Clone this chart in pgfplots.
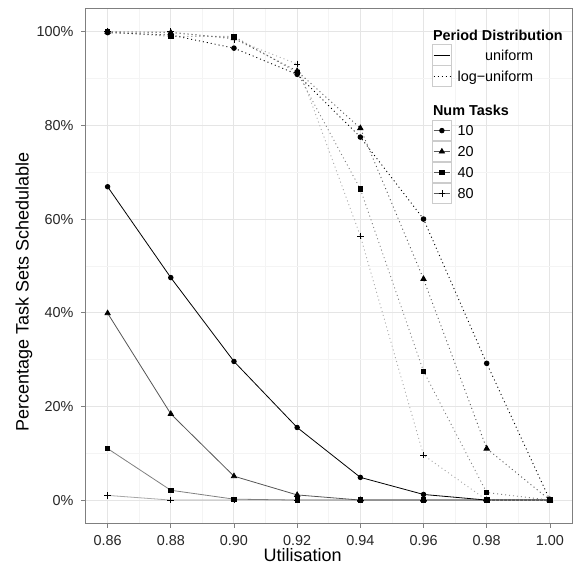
\documentclass[border=0pt]{standalone}
\usepackage{pgfplots}
\pgfplotsset{compat=1.18}
\usepackage{fontspec}
\setmainfont{Liberation Sans}
\definecolor{c10}{HTML}{000000}
\definecolor{c20}{HTML}{555555}
\definecolor{c40}{HTML}{808080}
\definecolor{c80}{HTML}{A8A8A8}
\definecolor{gmaj}{HTML}{E5E5E5}
\definecolor{gmin}{HTML}{F4F4F4}
\definecolor{border}{HTML}{7F7F7F}
\definecolor{keyb}{HTML}{CCCCCC}
\pgfplotsset{
  keyline/.style={legend image code/.code={
    \draw[draw=keyb, fill=white, line width=0.7pt, solid] (0pt,-10.15pt) rectangle (19.3pt,10.15pt);
    \draw[##1] (1.5pt,0pt) -- (17.8pt,0pt);
  }},
  keymark/.style={legend image code/.code={
    \draw[draw=keyb, fill=white, line width=0.7pt, solid] (0pt,-10.15pt) rectangle (19.3pt,10.15pt);
    \draw[mark repeat=2,mark phase=2,##1] plot coordinates {(1.5pt,0pt) (9.65pt,0pt) (17.8pt,0pt)};
  }},
  uni/.style={solid, line width=0.8pt},
  logu/.style={dash pattern=on 1pt off 3pt, line width=0.9pt},
  m10/.style={mark=*, mark size=2.3pt, mark options={solid, draw=black, fill=black}},
  m20/.style={mark=triangle*, mark size=3pt, mark options={solid, draw=black, fill=black}},
  m40/.style={mark=square*, mark size=2.2pt, mark options={solid, draw=black, fill=black}},
  m80/.style={mark=+, mark size=3.3pt, mark options={solid, draw=black, line width=0.7pt}},
}
\begin{document}
\begin{tikzpicture}
\path[use as bounding box] (-85.5pt,-41.5pt) rectangle (490.5pt,523.5pt);
\begin{axis}[
  at={(0pt,0pt)}, anchor=south west,
  scale only axis, width=486.5pt, height=515.2pt,
  xmin=0.853, xmax=1.007, ymin=-5, ymax=105,
  xtick={0.86,0.88,0.90,0.92,0.94,0.96,0.98,1.00},
  xticklabels={0.86,0.88,0.90,0.92,0.94,0.96,0.98,1.00},
  ytick={0,20,40,60,80,100},
  yticklabels={0\%,20\%,40\%,60\%,80\%,100\%},
  minor xtick={0.87,0.89,0.91,0.93,0.95,0.97,0.99},
  minor ytick={10,30,50,70,90},
  grid=both,
  major grid style={draw=gmaj, line width=1pt},
  minor grid style={draw=gmin, line width=0.6pt},
  axis line style={draw=border, line width=0.7pt},
  tick align=outside,
  xtick pos=bottom, ytick pos=left,
  major tick length=4.3pt, minor tick length=0pt,
  tick style={draw=border, line width=0.7pt},
  /pgf/number format/assume math mode=true,
  ticklabel style={font=\fontsize{14.4}{17}\selectfont, text=black!85, inner sep=0pt},
  xticklabel style={yshift=-7pt},
  yticklabel style={xshift=-7.5pt},
  every axis x label/.style={at={(axis description cs:0.4465,-0.0728)}, anchor=base, inner sep=0pt, font=\fontsize{18}{21}\selectfont},
  every axis y label/.style={at={(axis description cs:-0.11716,0.4495)}, anchor=base, rotate=90, inner sep=0pt, font=\fontsize{18}{21}\selectfont},
  xlabel={Utilisation},
  ylabel={Percentage Task Sets Schedulable},
  legend cell align=left,
  legend style={at={(0.7116,0.9579)}, anchor=north west, draw=none, fill=none,
    inner sep=0pt, row sep=0pt, column sep=5.7pt,
    font=\fontsize{14.4}{17}\selectfont,
    nodes={inner xsep=0pt, inner ysep=0pt, text height=10.3pt, text depth=0pt}},
]
% ---- legend ----
\addlegendimage{empty legend}
\addlegendentry[text height=10.7pt, text depth=3.6pt]{\makebox[0pt][l]{\hspace*{-25pt}\textbf{Period Distribution}}}
\addlegendimage{keyline, black, uni}
\addlegendentry{\hphantom{log−}uniform}
\addlegendimage{keyline, black, logu}
\addlegendentry{log−uniform}
\addlegendimage{empty legend}
\addlegendentry[text height=29.3pt, text depth=4.3pt]{\makebox[0pt][l]{\hspace*{-25pt}\textbf{Num Tasks}}}
\addlegendimage{keymark, black!65, uni, m10}
\addlegendentry{10}
\addlegendimage{keymark, black!65, uni, m20}
\addlegendentry{20}
\addlegendimage{keymark, black!65, uni, m40}
\addlegendentry{40}
\addlegendimage{keymark, black!65, uni, m80}
\addlegendentry{80}
% ---- uniform ----
\addplot[forget plot, c80, uni, m80] coordinates {(0.86,1.0) (0.88,0) (0.90,0) (0.92,0) (0.94,0) (0.96,0) (0.98,0) (1.00,0)};
\addplot[forget plot, c40, uni, m40] coordinates {(0.86,11.0) (0.88,2.1) (0.90,0.2) (0.92,0) (0.94,0) (0.96,0) (0.98,0) (1.00,0)};
\addplot[forget plot, c20, uni, m20] coordinates {(0.86,39.9) (0.88,18.4) (0.90,5.1) (0.92,1.1) (0.94,0) (0.96,0) (0.98,0) (1.00,0)};
\addplot[forget plot, c10, uni, m10] coordinates {(0.86,66.9) (0.88,47.5) (0.90,29.6) (0.92,15.5) (0.94,4.85) (0.96,1.2) (0.98,0) (1.00,0)};
% ---- log-uniform ----
\addplot[forget plot, c80, logu, m80] coordinates {(0.86,100) (0.88,100) (0.90,98.4) (0.92,93.1) (0.94,56.4) (0.96,9.6) (0.98,0) (1.00,0)};
\addplot[forget plot, c40, logu, m40] coordinates {(0.86,100) (0.88,99.0) (0.90,99.0) (0.92,91.3) (0.94,66.4) (0.96,27.5) (0.98,1.6) (1.00,0)};
\addplot[forget plot, c20, logu, m20] coordinates {(0.86,100) (0.88,99.8) (0.90,98.6) (0.92,91.6) (0.94,79.4) (0.96,47.2) (0.98,11.0) (1.00,0)};
\addplot[forget plot, c10, logu, m10] coordinates {(0.86,99.8) (0.88,99.3) (0.90,96.5) (0.92,90.9) (0.94,77.5) (0.96,60.0) (0.98,29.2) (1.00,0)};
\end{axis}
\end{tikzpicture}
\end{document}
